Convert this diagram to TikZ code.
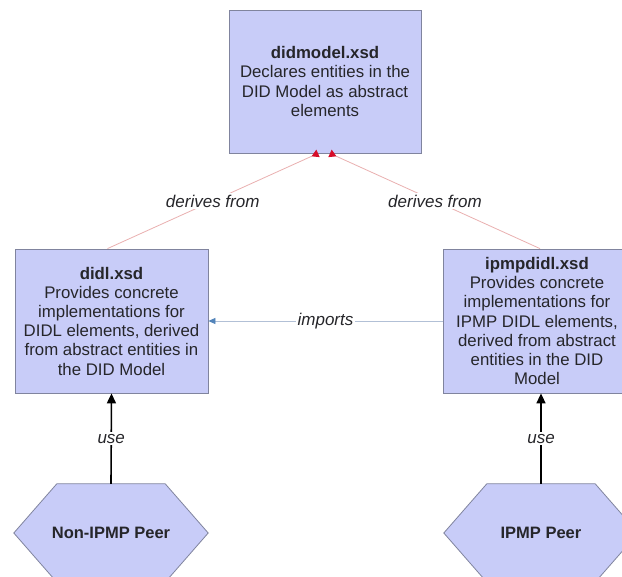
\documentclass[tikz,border=0pt]{standalone}
\usepackage{fontspec}
\setmainfont{Liberation Sans}
\usetikzlibrary{arrows.meta,backgrounds}
\definecolor{schemafill}{RGB}{200,204,248}
\definecolor{schemaline}{RGB}{128,132,158}
\definecolor{deriveline}{RGB}{234,176,176}
\definecolor{derivetip}{RGB}{214,12,40}
\definecolor{importline}{RGB}{178,192,214}
\definecolor{importtip}{RGB}{82,132,186}
\definecolor{ink}{RGB}{38,38,42}
\tikzset{
	schema/.style={draw=schemaline,fill=schemafill,line width=0.8pt,align=center,text=ink,inner sep=0pt,font=\fontsize{16.8}{19.2}\selectfont},
	peer/.style={align=center,text=ink,inner sep=0pt,minimum width=194pt,minimum height=98pt,font=\fontsize{16.5}{19}\selectfont\bfseries},
	hexa/.style={draw=schemaline,fill=schemafill,line width=0.8pt},
	lbl/.style={fill=white,text=ink,inner sep=1.5pt,font=\fontsize{17}{19}\selectfont\itshape}
}
\begin{document}
\begin{tikzpicture}[x=1pt,y=-1pt]
		\useasboundingbox(0,0) rectangle (622,577);
		\node[schema,minimum width=192pt,minimum height=143pt](didmodel) at (325,81.5){\textbf{didmodel.xsd}\\Declares entities in the\\DID Model as abstract\\elements};
		\node[schema,minimum width=193pt,minimum height=144pt](didl) at (111.5,321){\textbf{didl.xsd}\\Provides concrete\\implementations for\\DIDL elements, derived\\from abstract entities in\\the DID Model};
		\node[schema,minimum width=188pt,minimum height=144pt](ipmpdidl) at (537,321){\textbf{ipmpdidl.xsd}\\Provides concrete\\implementations for\\IPMP DIDL elements,\\derived from abstract\\entities in the DID\\Model};
		\node[peer](nonpeer) at (111,533){Non-IPMP Peer};
		\node[peer](ipmppeer) at (541,533){IPMP Peer};
		\begin{scope}[on background layer]
			\fill[white](0,0) rectangle (622,577);
			\foreach \p in {nonpeer,ipmppeer}
				\draw[hexa](\p.west)--([xshift=43pt]\p.north west)--([xshift=-43pt]\p.north east)--(\p.east)--([xshift=-43pt]\p.south east)--([xshift=43pt]\p.south west)--cycle;
		\end{scope}
		\draw[deriveline,line width=0.8pt,-{Triangle[reversed,length=7pt,width=8pt,color=derivetip]}]([xshift=-4pt]didl.north)--([xshift=-7pt]didmodel.south) node[lbl,pos=0.5]{derives from};
		\draw[deriveline,line width=0.8pt,-{Triangle[reversed,length=7pt,width=8pt,color=derivetip]}]([xshift=3pt]ipmpdidl.north)--([xshift=5pt]didmodel.south) node[lbl,pos=0.5]{derives from};
		\draw[importline,line width=0.8pt,-{Triangle[length=7pt,width=6pt,color=importtip]}](ipmpdidl.west)--(didl.east) node[lbl,pos=0.5]{imports};
		\draw[line width=1.6pt,-{Triangle[length=10pt,width=9pt]}](nonpeer.north)--(didl.south) node[lbl,pos=0.5]{use};
		\draw[line width=1.6pt,-{Triangle[length=10pt,width=9pt]}](ipmppeer.north)--([xshift=4pt]ipmpdidl.south) node[lbl,pos=0.5]{use};
	\end{tikzpicture}
\end{document}
